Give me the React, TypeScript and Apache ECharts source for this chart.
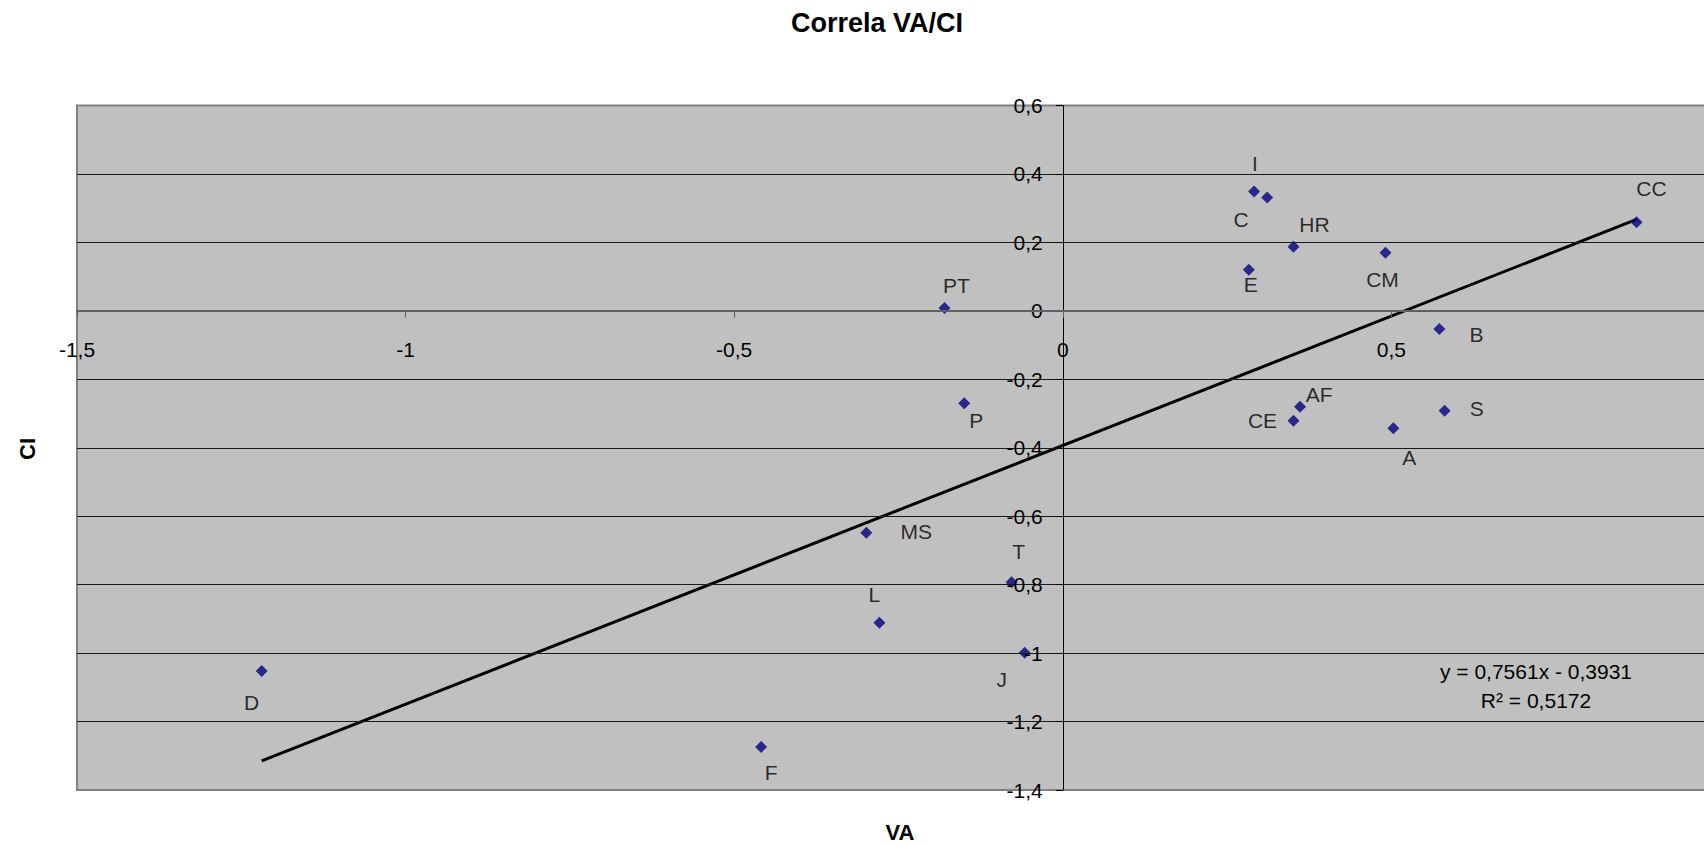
import React, { useEffect, useRef } from "react";
import * as echarts from "echarts";

// ---- data ----
const pointNames = ["I", "C", "HR", "CM", "E", "CC", "PT", "B", "P", "AF", "CE", "S", "A", "MS", "T", "L", "J", "D", "F"];
const vaValues = [0.291, 0.311, 0.351, 0.491, 0.283, 0.873, -0.180, 0.573, -0.150, 0.361, 0.351, 0.581, 0.503, -0.299, -0.078, -0.279, -0.058, -1.219, -0.459];
const ciValues = [0.349, 0.331, 0.187, 0.170, 0.120, 0.259, 0.008, -0.053, -0.270, -0.280, -0.321, -0.292, -0.343, -0.648, -0.793, -0.911, -0.999, -1.052, -1.274];
// label offsets (px) relative to each marker
const labelDx = [1, -26, 21, -3, 2, 15, 12, 37, 12, 19, -31, 32, 16, 50, 7, -5, -23, -10, 10];
const labelDy = [-28, 22, -22, 27, 15, -34, -23, 6, 17, -12, 0, -2, 29, -1, -31, -28, 27, 32, 26];

const trendSlope = 0.7561;
const trendIntercept = -0.3931;
const rSquared = 0.5172;

const xTicks = { min: -1.5, max: 1, interval: 0.5 };
const yTicks = { min: -1.4, max: 0.6, interval: 0.2 };

const titleText = "Correla VA/CI";
const xName = "VA";
const yName = "CI";

const FONT = "'Liberation Sans', Arial, sans-serif";

const fmt = (v: number) => String(Number(v.toFixed(2))).replace(".", ",");

// grid geometry
const W = 1704;
const H = 846;
const GRID_LEFT = 77;
const GRID_RIGHT = -16;
const GRID_TOP = 105.5;
const GRID_BOTTOM = 56;

export default function App() {
  const ref = useRef<HTMLDivElement>(null);
  useEffect(() => {
    if (!ref.current) return;
    const chart = echarts.init(ref.current, null, { renderer: "svg" });
    const xMin = Math.min(...vaValues);
    const xMax = Math.max(...vaValues);
    const gridW = W - GRID_LEFT - GRID_RIGHT;
    const gridH = H - GRID_TOP - GRID_BOTTOM;
    // move the axes so that they cross at zero
    const xAxisOffset = -((0 - yTicks.min) / (yTicks.max - yTicks.min)) * gridH;
    const yAxisOffset = -((0 - xTicks.min) / (xTicks.max - xTicks.min)) * gridW;
    const scatterData = pointNames.map((n, i) => ({
      name: n,
      value: [vaValues[i], ciValues[i]],
      label: { offset: [labelDx[i], labelDy[i]] },
    }));
    chart.setOption({
      animation: false,
      backgroundColor: "#ffffff",
      textStyle: { fontFamily: FONT },
      grid: {
        left: GRID_LEFT,
        right: GRID_RIGHT,
        top: GRID_TOP,
        bottom: GRID_BOTTOM,
        show: true,
        backgroundColor: "#c0c0c0",
        borderColor: "#808080",
        borderWidth: 2,
        containLabel: false,
        outerBoundsMode: "none",
      },
      xAxis: {
        type: "value",
        min: xTicks.min,
        max: xTicks.max,
        interval: xTicks.interval,
        position: "bottom",
        offset: xAxisOffset,
        axisLine: { onZero: false, lineStyle: { color: "#606060", width: 2 } },
        axisTick: { show: true, inside: false, length: 7, lineStyle: { color: "#606060", width: 1 } },
        axisLabel: {
          margin: 28,
          color: "#000",
          fontSize: 21,
          fontFamily: FONT,
          formatter: (v: number) => fmt(v),
          showMaxLabel: false,
        },
        splitLine: { show: false },
        z: 5,
      },
      yAxis: {
        type: "value",
        min: yTicks.min,
        max: yTicks.max,
        interval: yTicks.interval,
        position: "left",
        offset: yAxisOffset,
        axisLine: { onZero: false, lineStyle: { color: "#000", width: 1 } },
        axisTick: { show: true, inside: false, length: 7, lineStyle: { color: "#000", width: 1 } },
        axisLabel: {
          margin: 20,
          color: "#000",
          fontSize: 21,
          fontFamily: FONT,
          formatter: (v: number) => fmt(v),
        },
        splitLine: { show: true, showMinLine: false, showMaxLine: false, lineStyle: { color: "#1a1a1a", width: 1 } },
        z: 4,
      },
      graphic: [
        {
          type: "text",
          x: 877,
          y: 23,
          style: { text: titleText, font: `bold 27px ${FONT}`, fill: "#000", align: "center", verticalAlign: "middle" },
        },
        {
          type: "text",
          x: 900,
          y: 832,
          style: { text: xName, font: `bold 22px ${FONT}`, fill: "#000", align: "center", verticalAlign: "middle" },
        },
        {
          type: "text",
          x: 27,
          y: 449,
          rotation: Math.PI / 2,
          style: { text: yName, font: `bold 22px ${FONT}`, fill: "#000", align: "center", verticalAlign: "middle" },
        },
        {
          type: "text",
          x: 1536,
          y: 671,
          z: 100,
          style: {
            text: `y = ${fmt4(trendSlope)}x - ${fmt4(-trendIntercept)}`,
            font: `21px ${FONT}`,
            fill: "#000",
            align: "center",
            verticalAlign: "middle",
          },
        },
        {
          type: "text",
          x: 1536,
          y: 700,
          z: 100,
          style: {
            text: `R² = ${fmt4(rSquared)}`,
            font: `21px ${FONT}`,
            fill: "#000",
            align: "center",
            verticalAlign: "middle",
          },
        },
      ],
      series: [
        {
          type: "line",
          data: [
            [xMin, trendSlope * xMin + trendIntercept],
            [xMax, trendSlope * xMax + trendIntercept],
          ],
          showSymbol: false,
          symbol: "none",
          lineStyle: { color: "#000", width: 3 },
          silent: true,
          z: 2,
        },
        {
          type: "scatter",
          symbol: "diamond",
          symbolSize: 12,
          itemStyle: { color: "#000080" },
          data: scatterData,
          z: 3,
          label: {
            show: true,
            position: "inside",
            formatter: "{b}",
            color: "#000",
            fontSize: 21,
            fontFamily: FONT,
          },
        },
      ],
    });
    return () => chart.dispose();
  }, []);
  return (
    <div
      ref={ref}
      style={{ position: "absolute", left: 0, top: 0, width: W, height: H, overflow: "hidden" }}
    />
  );
}

function fmt4(v: number) {
  return v.toFixed(4).replace(".", ",");
}
